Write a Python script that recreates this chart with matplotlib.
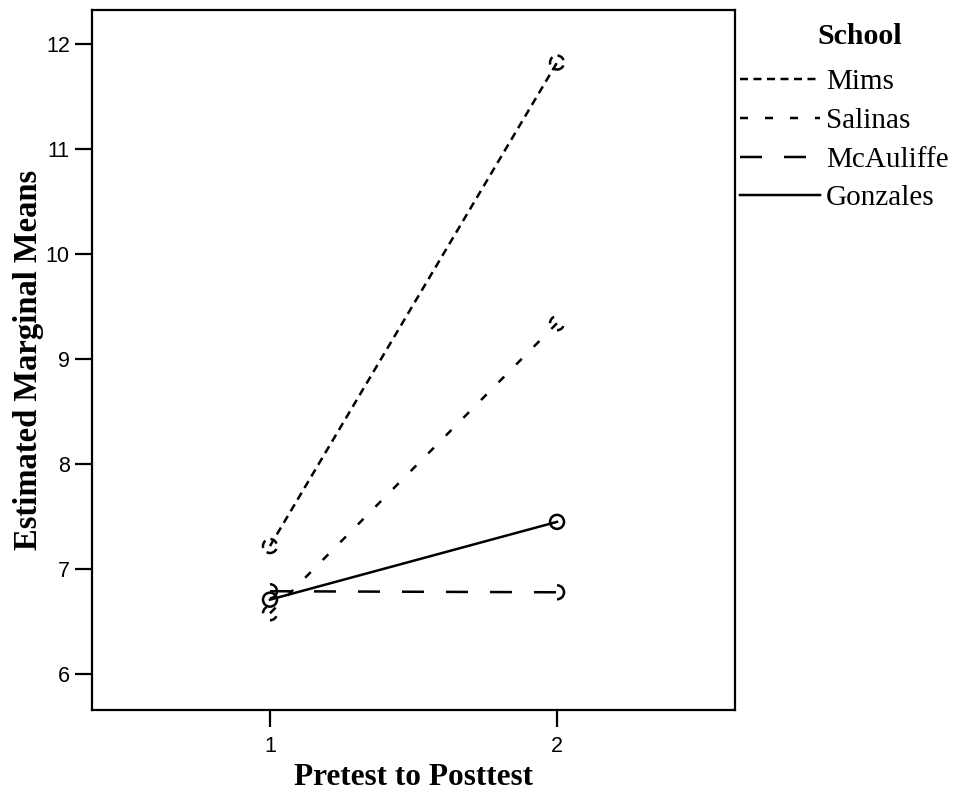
import matplotlib
matplotlib.use("Agg")
import matplotlib.pyplot as plt

schools = ["Mims", "Salinas", "McAuliffe", "Gonzales"]
time_points = [1, 2]
mims = [7.22, 11.82]
salinas = [6.58, 9.34]
mcauliffe = [6.79, 6.78]
gonzales = [6.71, 7.45]
series = [mims, salinas, mcauliffe, gonzales]
y_ticks = [6, 7, 8, 9, 10, 11, 12]
x_ticks = [1, 2]

plt.rcParams['lines.scale_dashes'] = False
px = 0.72  # points per pixel at dpi 100
dash_styles = [
    (0, (8 * px, 5.5 * px)),
    (0, (8 * px, 17 * px)),
    (0, (22 * px, 22 * px)),
    '-',
]

fig = plt.figure(figsize=(9.65, 7.94), dpi=100)
ax = fig.add_axes([92 / 965, 1 - 710 / 794, (735 - 92) / 965, (710 - 10) / 794])

lw = 2.5 * px
handles = []
for name, vals, ls in zip(schools, series, dash_styles):
    h, = ax.plot(time_points, vals, color='black', linestyle=ls, linewidth=lw, label=name)
    handles.append(h)
    ax.scatter(time_points, vals, s=(14 * px) ** 2, facecolors='none', edgecolors='black',
               linewidths=lw, linestyles=ls if ls != '-' else 'solid', zorder=3)

ax.set_xlim(0.38, 2.62)
ax.set_ylim(5.66, 12.32)
ax.set_xticks(x_ticks)
ax.set_yticks(y_ticks)
ax.set_xticklabels([str(t) for t in x_ticks], family='Liberation Sans', fontsize=15.5)
ax.set_yticklabels([str(t) for t in y_ticks], family='Liberation Sans', fontsize=15.5)
ax.tick_params(axis='both', direction='out', length=12, width=1.6)
ax.tick_params(axis='x', pad=7)
ax.tick_params(axis='y', pad=4)
for s in ax.spines.values():
    s.set_linewidth(1.6)

ax.set_xlabel("Pretest to Posttest", family='Liberation Serif', fontweight='bold', fontsize=22.5, labelpad=4)
ax.set_ylabel("Estimated Marginal Means", family='Liberation Serif', fontweight='bold', fontsize=23.5, labelpad=1)

leg = fig.legend(handles=handles, labels=schools, loc='upper left',
                 bbox_to_anchor=(740 / 965, 1 - 69 / 794), frameon=False,
                 prop={'family': 'Liberation Serif', 'size': 21},
                 handlelength=2.75, handletextpad=0.2, labelspacing=0.42,
                 borderaxespad=0, borderpad=0)
fig.text(860 / 965, 1 - 36 / 794, "School", family='Liberation Serif', fontweight='bold',
         fontsize=21.5, ha='center', va='center')

fig.savefig("out.png", dpi=100)
